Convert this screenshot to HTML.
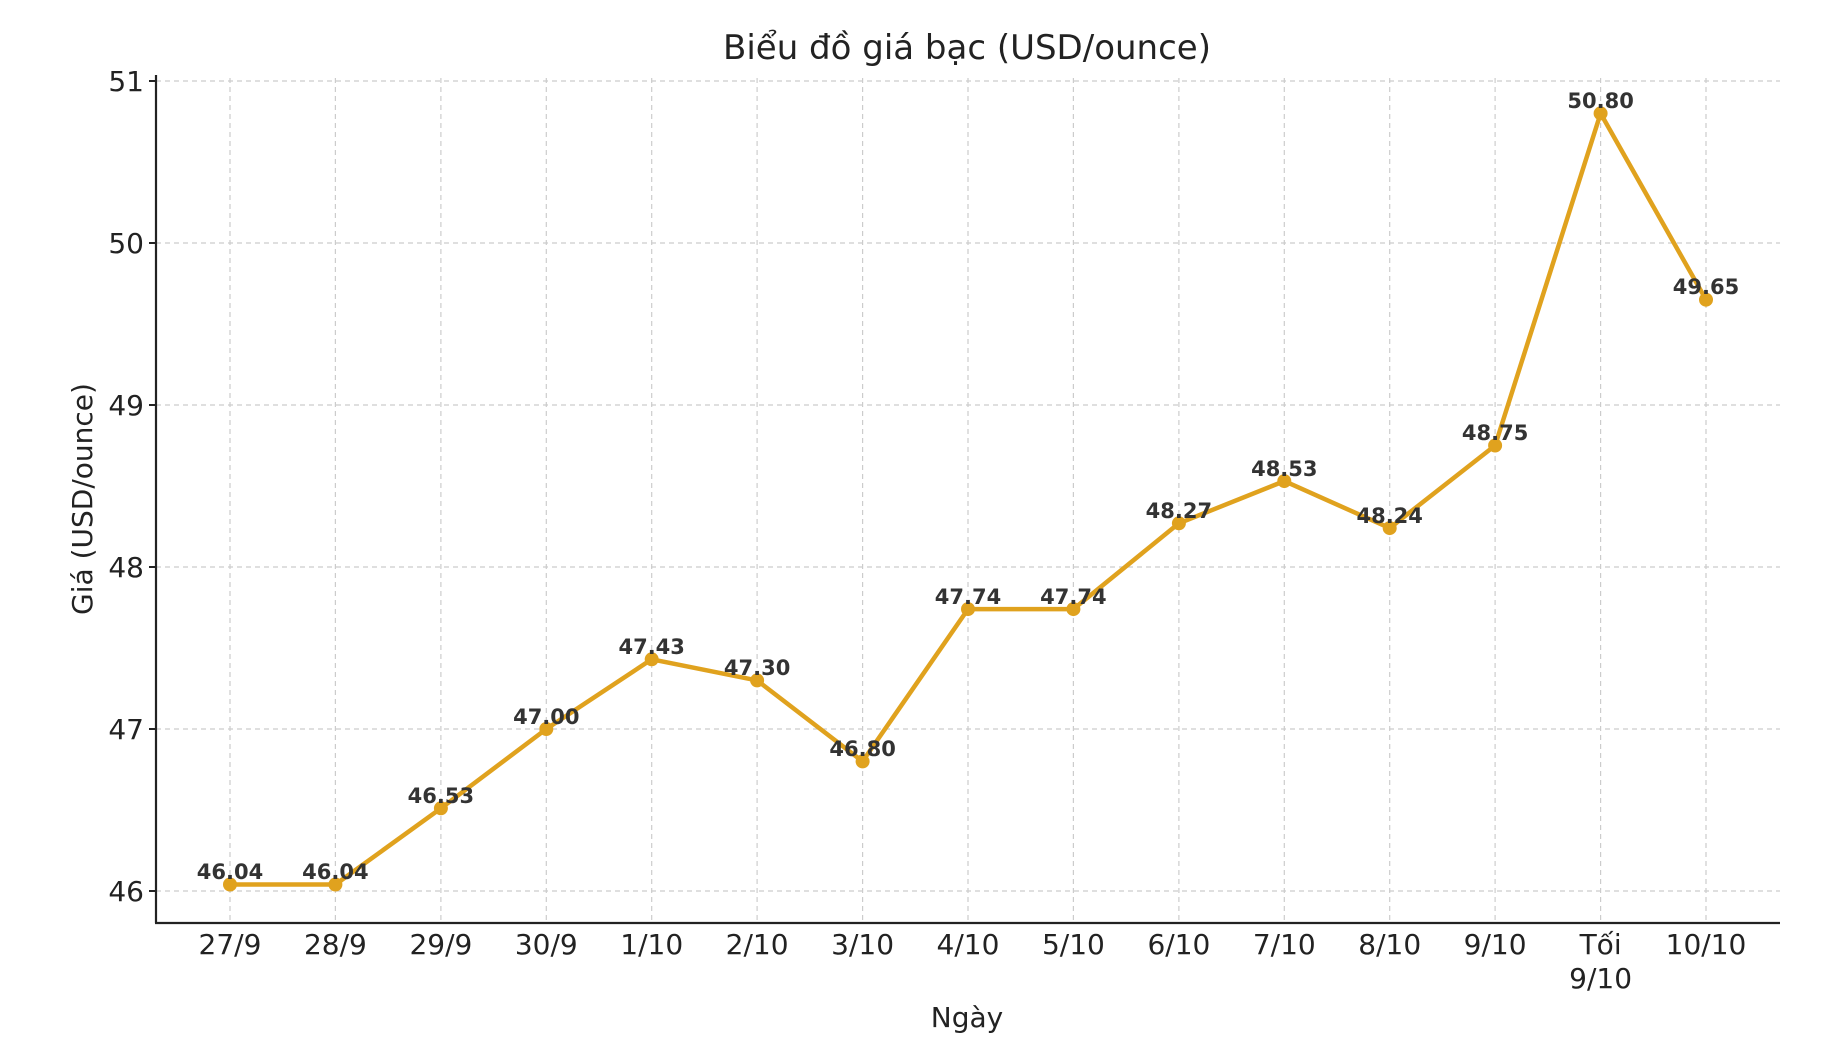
<!DOCTYPE html>
<html><head><meta charset="utf-8"><style>
html,body{margin:0;padding:0;background:#fff;}
svg{display:block;font-family:"DejaVu Sans","Liberation Sans",sans-serif;}
</style></head><body>
<svg width="1826" height="1055" viewBox="0 0 1826 1055" xmlns="http://www.w3.org/2000/svg">
<rect width="1826" height="1055" fill="#fff"/>
<g stroke="#cccccc" stroke-width="1.2" stroke-dasharray="5,4">
<line x1="156" y1="81" x2="1780" y2="81"/>
<line x1="156" y1="243" x2="1780" y2="243"/>
<line x1="156" y1="405" x2="1780" y2="405"/>
<line x1="156" y1="567" x2="1780" y2="567"/>
<line x1="156" y1="729" x2="1780" y2="729"/>
<line x1="156" y1="891" x2="1780" y2="891"/>
<line x1="230" y1="78" x2="230" y2="923"/>
<line x1="335.4" y1="78" x2="335.4" y2="923"/>
<line x1="440.9" y1="78" x2="440.9" y2="923"/>
<line x1="546.3" y1="78" x2="546.3" y2="923"/>
<line x1="651.7" y1="78" x2="651.7" y2="923"/>
<line x1="757.1" y1="78" x2="757.1" y2="923"/>
<line x1="862.6" y1="78" x2="862.6" y2="923"/>
<line x1="968" y1="78" x2="968" y2="923"/>
<line x1="1073.4" y1="78" x2="1073.4" y2="923"/>
<line x1="1178.9" y1="78" x2="1178.9" y2="923"/>
<line x1="1284.3" y1="78" x2="1284.3" y2="923"/>
<line x1="1389.7" y1="78" x2="1389.7" y2="923"/>
<line x1="1495.1" y1="78" x2="1495.1" y2="923"/>
<line x1="1600.6" y1="78" x2="1600.6" y2="923"/>
<line x1="1706" y1="78" x2="1706" y2="923"/>
</g>
<g stroke="#222" stroke-width="2.2">
<line x1="156" y1="75" x2="156" y2="923"/>
<line x1="155" y1="923" x2="1780" y2="923"/>
</g>
<g stroke="#222" stroke-width="2">
<line x1="149" y1="81" x2="156" y2="81"/><line x1="149" y1="243" x2="156" y2="243"/><line x1="149" y1="405" x2="156" y2="405"/><line x1="149" y1="567" x2="156" y2="567"/><line x1="149" y1="729" x2="156" y2="729"/><line x1="149" y1="891" x2="156" y2="891"/>
</g>
<g font-size="28" fill="#222" text-anchor="end">
<text x="144" y="91">51</text><text x="144" y="253">50</text><text x="144" y="415">49</text><text x="144" y="577">48</text><text x="144" y="739">47</text><text x="144" y="901">46</text>
</g>
<g font-size="28" fill="#222" text-anchor="middle">
<text x="230" y="954">27/9</text><text x="335.4" y="954">28/9</text><text x="440.9" y="954">29/9</text><text x="546.3" y="954">30/9</text><text x="651.7" y="954">1/10</text><text x="757.1" y="954">2/10</text><text x="862.6" y="954">3/10</text><text x="968" y="954">4/10</text><text x="1073.4" y="954">5/10</text><text x="1178.9" y="954">6/10</text><text x="1284.3" y="954">7/10</text><text x="1389.7" y="954">8/10</text><text x="1495.1" y="954">9/10</text><text x="1600.6" y="954">Tối</text><text x="1600.6" y="988">9/10</text><text x="1706" y="954">10/10</text>
<text x="967" y="1027">Ngày</text>
<text x="967" y="59" font-size="34">Biểu đồ giá bạc (USD/ounce)</text>
<text transform="translate(92,499) rotate(-90)">Giá (USD/ounce)</text>
</g>
<polyline fill="none" stroke="#E0A21E" stroke-width="4.5" stroke-linejoin="round" points="230,884.5 335.4,884.5 440.9,808.3 546.3,729 651.7,659.3 757.1,680.4 862.6,761.4 968,609.1 1073.4,609.1 1178.9,523.3 1284.3,481.1 1389.7,528.1 1495.1,445.5 1600.6,113.4 1706,299.7"/>
<g fill="#E0A21E">
<circle cx="230" cy="884.5" r="7"/><circle cx="335.4" cy="884.5" r="7"/><circle cx="440.9" cy="808.3" r="7"/><circle cx="546.3" cy="729" r="7"/><circle cx="651.7" cy="659.3" r="7"/><circle cx="757.1" cy="680.4" r="7"/><circle cx="862.6" cy="761.4" r="7"/><circle cx="968" cy="609.1" r="7"/><circle cx="1073.4" cy="609.1" r="7"/><circle cx="1178.9" cy="523.3" r="7"/><circle cx="1284.3" cy="481.1" r="7"/><circle cx="1389.7" cy="528.1" r="7"/><circle cx="1495.1" cy="445.5" r="7"/><circle cx="1600.6" cy="113.4" r="7"/><circle cx="1706" cy="299.7" r="7"/>
</g>
<g font-size="21" font-weight="bold" fill="#333" text-anchor="middle">
<text x="230" y="879">46.04</text><text x="335.4" y="879">46.04</text><text x="440.9" y="803">46.53</text><text x="546.3" y="724">47.00</text><text x="651.7" y="654">47.43</text><text x="757.1" y="675">47.30</text><text x="862.6" y="756">46.80</text><text x="968" y="604">47.74</text><text x="1073.4" y="604">47.74</text><text x="1178.9" y="518">48.27</text><text x="1284.3" y="476">48.53</text><text x="1389.7" y="523">48.24</text><text x="1495.1" y="440">48.75</text><text x="1600.6" y="108">50.80</text><text x="1706" y="294">49.65</text>
</g>
</svg>
</body></html>
